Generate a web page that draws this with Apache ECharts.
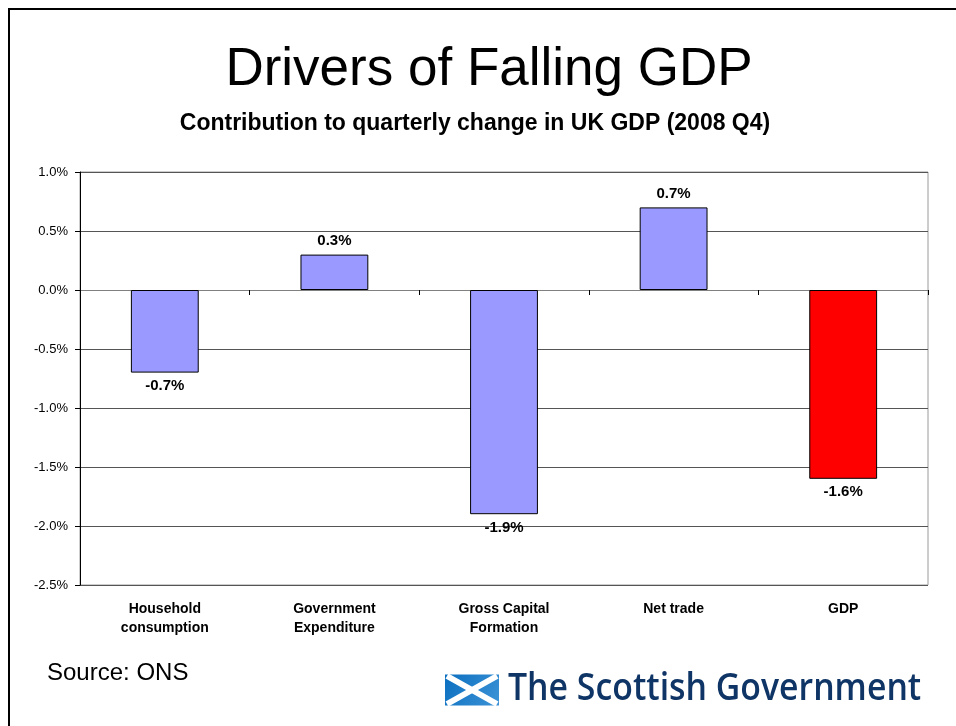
<!DOCTYPE html>
<html>
<head>
<meta charset="utf-8">
<script src="https://cdn.jsdelivr.net/npm/echarts@6/dist/echarts.min.js"></script>
<style>
  html, body { margin: 0; padding: 0; background: #ffffff; }
  #chart { width: 956px; height: 726px; }
</style>
</head>
<body>
<div id="chart"></div>
<script>
// Contribution to quarterly change in UK GDP, 2008 Q4 (percentage points)
const categories = ['Household\nconsumption', 'Government\nExpenditure', 'Gross Capital\nFormation', 'Net trade', 'GDP'];
const contributions = [-0.7, 0.3, -1.9, 0.7, -1.6];
const barColors = ['#9999FF', '#9999FF', '#9999FF', '#9999FF', '#FF0000'];
const yMin = -2.5;
const yMax = 1.0;
const yStep = 0.5;

const FONT = '"Liberation Sans", Arial, sans-serif';
const pct = v => v.toFixed(1) + '%';

const chart = echarts.init(document.getElementById('chart'), null, { renderer: 'canvas' });

const barData = contributions.map((v, i) => ({
  value: v,
  itemStyle: { color: barColors[i] },
  label: { position: v >= 0 ? 'top' : 'bottom' }
}));

chart.setOption({
  backgroundColor: '#ffffff',
  animation: false,
  title: [
    {
      text: 'Drivers of Falling GDP',
      left: 484, top: 39, textAlign: 'center',
      textStyle: { fontFamily: FONT, fontSize: 53, fontWeight: 'normal', color: '#000' }
    },
    {
      text: 'Contribution to quarterly change in UK GDP (2008 Q4)',
      left: 470, top: 107, textAlign: 'center',
      textStyle: { fontFamily: FONT, fontSize: 23, fontWeight: 'bold', color: '#000' }
    },
    {
      text: 'Source: ONS',
      left: 42, top: 656,
      textStyle: { fontFamily: FONT, fontSize: 24, fontWeight: 'normal', color: '#000' }
    }
  ],
  grid: {
    left: 80, right: 28, top: 172, bottom: 141,
    show: true, borderColor: '#9a9a9a', borderWidth: 1, backgroundColor: 'transparent'
  },
  xAxis: [
    {
      // axis drawn along the zero line, with category boundary ticks
      type: 'category',
      data: categories,
      position: 'bottom',
      axisLine: { onZero: true, lineStyle: { color: '#808080', width: 1 } },
      axisTick: { show: true, length: 5, interval: 0, lineStyle: { color: '#000' } },
      axisLabel: { show: false },
      splitLine: { show: false }
    },
    {
      // category names at the foot of the plot area
      type: 'category',
      data: categories,
      position: 'bottom',
      axisLine: { show: false, onZero: false },
      axisTick: { show: false },
      axisLabel: {
        interval: 0, margin: 15,
        fontFamily: FONT, fontSize: 14, fontWeight: 'bold', color: '#000', lineHeight: 19
      }
    }
  ],
  yAxis: {
    type: 'value',
    min: yMin, max: yMax, interval: yStep,
    axisLine: { show: true, lineStyle: { color: '#000', width: 1 } },
    axisTick: { show: true, length: 5, lineStyle: { color: '#000' } },
    axisLabel: {
      formatter: v => pct(v), margin: 12,
      fontFamily: FONT, fontSize: 13, color: '#000'
    },
    splitLine: { show: true, lineStyle: { color: '#555', width: 1 } }
  },
  series: [{
    type: 'bar',
    xAxisIndex: 0,
    data: barData,
    barWidth: '40%',
    itemStyle: { borderColor: '#000', borderWidth: 1 },
    label: {
      show: true, distance: 6,
      formatter: p => pct(p.value),
      fontFamily: FONT, fontSize: 15, fontWeight: 'bold', color: '#000'
    }
  }],
  graphic: [
    // slide frame
    {
      type: 'polyline', silent: true,
      shape: { points: [[9, 740], [9, 9], [960, 9]] },
      style: { stroke: '#000', lineWidth: 2, fill: null }
    },
    // saltire mark
    {
      type: 'group', left: 444, top: 673,
      children: [
        {
          type: 'rect', shape: { x: 0, y: 0, width: 54, height: 31 },
          style: {
            fill: new echarts.graphic.LinearGradient(0, 0, 1, 1, [
              { offset: 0, color: '#0b6fc0' }, { offset: 1, color: '#3d93d6' }
            ])
          }
        },
        {
          type: 'polyline', shape: { points: [[2, 1.5], [52, 29.5]] },
          style: { stroke: '#ffffff', lineWidth: 6, lineCap: 'butt' }
        },
        {
          type: 'polyline', shape: { points: [[2, 29.5], [52, 1.5]] },
          style: { stroke: '#ffffff', lineWidth: 6, lineCap: 'butt' }
        }
      ]
    },
    {
      type: 'text', left: 508, top: 670, scaleX: 0.89,
      style: {
        text: 'The Scottish Government',
        font: '600 38px "Open Sans", "Noto Sans", sans-serif',
        fill: '#0f3566'
      }
    }
  ]
});
</script>
</body>
</html>
